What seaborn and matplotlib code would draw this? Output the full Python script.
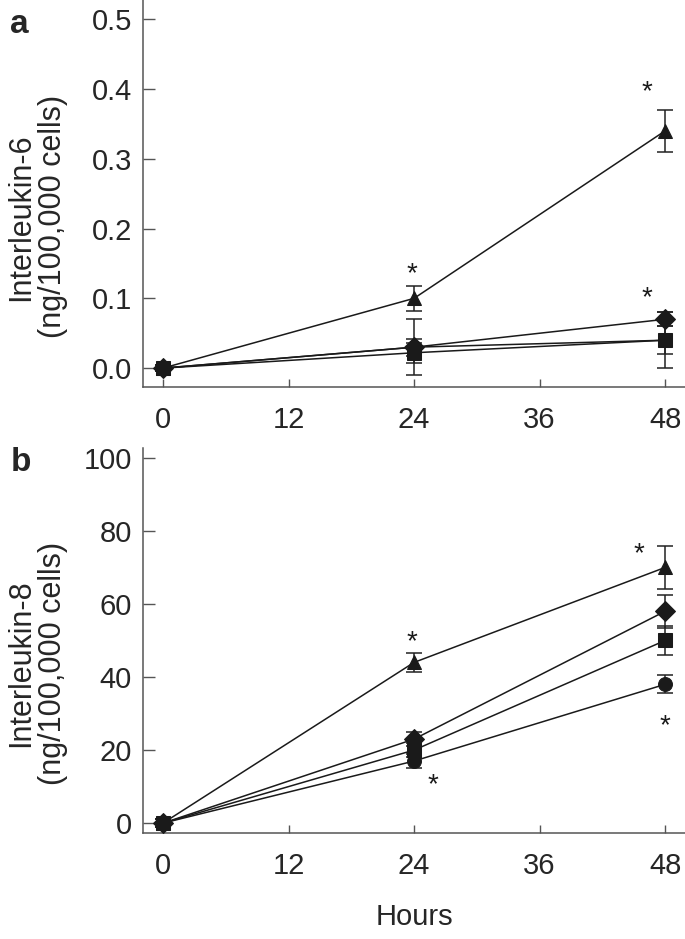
import matplotlib
matplotlib.use("Agg")
import matplotlib.pyplot as plt
import pandas as pd
import seaborn as sns

hours = [0, 24, 48]
groups = ["triangle", "diamond", "square", "circle"]
markers = {"triangle": "^", "diamond": "D", "square": "s", "circle": "o"}

# interleukin-6 (ng/100,000 cells)
il6_triangle = [0.0, 0.10, 0.34]
il6_diamond = [0.0, 0.030, 0.07]
il6_square = [0.0, 0.022, 0.04]
il6_circle = [0.0, 0.030, 0.04]
il6_triangle_err = [0.004, 0.018, 0.03]
il6_diamond_err = [0.004, 0.012, 0.01]
il6_square_err = [0.004, 0.014, 0.04]
il6_circle_err = [0.004, 0.040, 0.02]

# interleukin-8 (ng/100,000 cells)
il8_triangle = [0, 44, 70]
il8_diamond = [0, 23, 58]
il8_square = [0, 20, 50]
il8_circle = [0, 17, 38]
il8_triangle_err = [1, 2.5, 6]
il8_diamond_err = [1, 2, 4.5]
il8_square_err = [1, 2, 4]
il8_circle_err = [1, 2, 2.5]

# asterisks (hour, value)
il6_stars = [(23.8, 0.135), (46.3, 0.395), (46.3, 0.10)]
il8_stars = [(23.8, 49.5), (45.5, 73.5), (48.0, 26.5), (25.8, 10.5)]


def make_df(vals, errs):
    rows = []
    for g in groups:
        for h, v, e in zip(hours, vals[g], errs[g]):
            rows.append({"hours": h, "value": v, "err": e, "group": g})
    return pd.DataFrame(rows)


df6 = make_df(
    {"triangle": il6_triangle, "diamond": il6_diamond, "square": il6_square, "circle": il6_circle},
    {"triangle": il6_triangle_err, "diamond": il6_diamond_err, "square": il6_square_err, "circle": il6_circle_err},
)
df8 = make_df(
    {"triangle": il8_triangle, "diamond": il8_diamond, "square": il8_square, "circle": il8_circle},
    {"triangle": il8_triangle_err, "diamond": il8_diamond_err, "square": il8_square_err, "circle": il8_circle_err},
)

sns.set_style("ticks")
plt.rcParams["font.family"] = ["Liberation Sans", "DejaVu Sans"]

fig = plt.figure(figsize=(6.85, 9.39), dpi=100)
ax_a = fig.add_axes([0.2088, 0.5879, 0.7912, 0.4121])
ax_b = fig.add_axes([0.2088, 0.1129, 0.7912, 0.4100])


def draw(ax, df, stars):
    for g in groups:
        d = df[df["group"] == g]
        ax.errorbar(d["hours"], d["value"], yerr=d["err"], fmt="none",
                    ecolor="#222222", elinewidth=1.1, capsize=6, capthick=1.1, zorder=2)
    sns.lineplot(data=df, x="hours", y="value", style="group", markers=markers,
                 dashes=False, color="#1a1a1a", linewidth=1.1, markersize=10,
                 markeredgecolor="#1a1a1a", legend=False, ax=ax, zorder=3)
    for x, y in stars:
        ax.text(x, y, "*", fontsize=20, ha="center", va="center", color="#1a1a1a")
    for s in ["top", "right"]:
        ax.spines[s].set_visible(False)
    for s in ["left", "bottom"]:
        ax.spines[s].set_color("#555555")
        ax.spines[s].set_linewidth(1.1)
    ax.set_xlim(-1.91, 49.9)
    ax.set_xticks([0, 12, 24, 36, 48])
    ax.tick_params(axis="x", direction="in", length=5.5, width=1, color="#555555",
                   labelsize=21, pad=14)
    ax.tick_params(axis="y", direction="in", length=8.5, width=1, color="#555555",
                   labelsize=21, pad=8)
    ax.set_xlabel("")


draw(ax_a, df6, il6_stars)
ax_a.set_ylim(-0.027, 0.5275)
ax_a.set_yticks([0.0, 0.1, 0.2, 0.3, 0.4, 0.5])
ax_a.set_yticklabels(["0.0", "0.1", "0.2", "0.3", "0.4", "0.5"])
ax_a.set_ylabel("Interleukin-6\n(ng/100,000 cells)", fontsize=22, linespacing=1.1)
ax_a.yaxis.set_label_coords(-0.138, 0.44)

draw(ax_b, df8, il8_stars)
ax_b.set_ylim(-2.7, 102.7)
ax_b.set_yticks([0, 20, 40, 60, 80, 100])
ax_b.set_ylabel("Interleukin-8\n(ng/100,000 cells)", fontsize=22, linespacing=1.1)
ax_b.yaxis.set_label_coords(-0.138, 0.44)
ax_b.set_xlabel("Hours", fontsize=21, labelpad=16)

fig.text(0.015, 0.99, "a", fontsize=24, fontweight="bold", va="top", ha="left")
fig.text(0.015, 0.524, "b", fontsize=24, fontweight="bold", va="top", ha="left")

fig.savefig("out.png", dpi=100)
